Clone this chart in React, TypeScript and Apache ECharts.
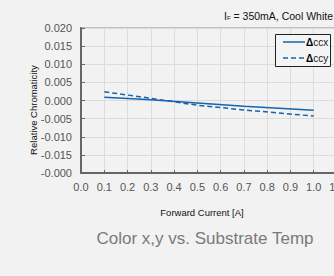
import React, { useEffect, useRef } from "react";
import * as echarts from "echarts";

const currents = [0.1, 0.3, 0.5, 0.7, 1.0];
const ccx = [0.0009, 0.0002, -0.0007, -0.0016, -0.0027];
const ccy = [0.0024, 0.0006, -0.0013, -0.0026, -0.0043];
const yTickLabels = ["-0.000", "-0.015", "-0.010", "-0.005", "0.000", "0.005", "0.010", "0.015", "0.020"];
const seriesNames = ["ccx", "ccy"];
const titleText = "I{sub|F} = 350mA, Cool White";
const xName = "Forward Current [A]";
const yName = "Relative Chromaticity";
const caption = "Color x,y vs. Substrate Temp";

export default function App() {
  const ref = useRef<HTMLDivElement>(null);
  useEffect(() => {
    document.body.style.margin = "0";
    document.body.style.background = "#f2f2f2";
    const chart = echarts.init(ref.current!, undefined, { renderer: "svg" });
    const blue = "#1763ad";
    const legendRow = (y: number, name: string, dashed: boolean) => [
      {
        type: "line",
        shape: { x1: 283, y1: y, x2: 305, y2: y },
        style: { stroke: blue, lineWidth: 1.5, lineDash: dashed ? [5, 3] : null },
      },
      {
        type: "text",
        x: 306,
        y: y,
        style: {
          text: "{d|Δ}" + name,
          fontSize: 10,
          fill: "#222",
          verticalAlign: "middle",
          fontFamily: "Liberation Sans",
          rich: { d: { fontSize: 10, fontWeight: "bold", fill: "#000" } },
        },
      },
    ];
    chart.setOption({
      animation: false,
      backgroundColor: "#f2f2f2",
      textStyle: { fontFamily: "Liberation Sans" },
      grid: {
        left: 81,
        top: 28,
        right: -3,
        bottom: 103,
        show: true,
        borderColor: "#b0b0b0",
        borderWidth: 1.5,
        backgroundColor: "transparent",
        containLabel: false,
        outerBoundsMode: "none",
      },
      xAxis: {
        type: "value",
        min: 0,
        max: 1.1,
        interval: 0.1,
        axisLine: { show: true, onZero: false, lineStyle: { color: "#666", width: 2 } },
        axisTick: { show: true, inside: true, length: 3, lineStyle: { color: "#666" } },
        splitLine: { show: true, lineStyle: { color: "#dcdcdc", width: 1 } },
        axisLabel: {
          color: "#555",
          fontSize: 11,
          margin: 8,
          formatter: (v: number) => v.toFixed(1),
        },
      },
      yAxis: {
        type: "value",
        min: -0.02,
        max: 0.02,
        interval: 0.005,
        axisLine: { show: true, lineStyle: { color: "#666", width: 2 } },
        axisTick: { show: true, inside: true, length: 4, lineStyle: { color: "#666" } },
        splitLine: { show: true, lineStyle: { color: "#dcdcdc", width: 1 } },
        axisLabel: {
          color: "#555",
          fontSize: 11,
          margin: 9,
          formatter: (v: number) => yTickLabels[Math.round((v + 0.02) / 0.005)] ?? "",
        },
      },
      series: [
        {
          name: seriesNames[0],
          type: "line",
          data: currents.map((c, i) => [c, ccx[i]]),
          symbol: "none",
          lineStyle: { color: blue, width: 1.5, type: "solid" },
          itemStyle: { color: blue },
        },
        {
          name: seriesNames[1],
          type: "line",
          data: currents.map((c, i) => [c, ccy[i]]),
          symbol: "none",
          lineStyle: { color: blue, width: 1.5, type: [5, 3] },
          itemStyle: { color: blue },
        },
      ],
      graphic: [
        {
          type: "rect",
          shape: { x: 275.5, y: 34.5, width: 55, height: 32 },
          style: { fill: "#f4f4f4", stroke: "#222", lineWidth: 1 },
          z: 10,
        },
        ...legendRow(42, seriesNames[0], false).map((e) => ({ ...e, z: 11 })),
        ...legendRow(58, seriesNames[1], true).map((e) => ({ ...e, z: 11 })),
        {
          type: "text",
          right: 1,
          top: 10,
          style: {
            text: titleText,
            fontSize: 10.5,
            fill: "#111",
            fontFamily: "Liberation Sans",
            rich: { sub: { fontSize: 6, verticalAlign: "bottom", padding: [3, 0, 0, 0] } },
          },
        },
        {
          type: "text",
          x: 33,
          y: 110,
          rotation: Math.PI / 2,
          style: {
            text: yName,
            fontSize: 9.5,
            fill: "#111",
            align: "center",
            verticalAlign: "middle",
            fontFamily: "Liberation Sans",
          },
        },
        {
          type: "text",
          x: 202,
          y: 212,
          style: {
            text: xName,
            fontSize: 9.5,
            fill: "#111",
            align: "center",
            verticalAlign: "middle",
            fontFamily: "Liberation Sans",
          },
        },
        {
          type: "text",
          x: 205,
          y: 238,
          style: {
            text: caption,
            fontSize: 17,
            fill: "#7a7a7a",
            align: "center",
            verticalAlign: "middle",
            fontFamily: "Liberation Sans",
          },
        },
      ],
    });
    return () => chart.dispose();
  }, []);
  return (
    <div
      ref={ref}
      style={{ position: "absolute", left: 0, top: 0, width: 334, height: 276, background: "#f2f2f2" }}
    />
  );
}
